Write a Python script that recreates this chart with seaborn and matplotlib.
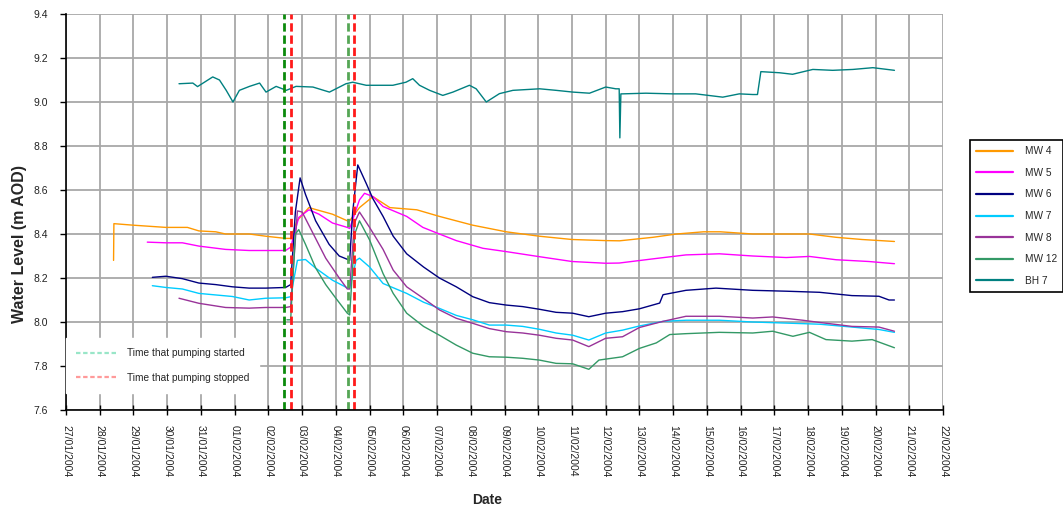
import numpy as np
import pandas as pd
import matplotlib
matplotlib.use("Agg")
import matplotlib.pyplot as plt
import matplotlib.dates as mdates
from matplotlib.lines import Line2D
from matplotlib.ticker import FormatStrFormatter
import seaborn as sns

# ---------------- data (days after 27/01/2004 00:00, level in m AOD) ----------------
START = pd.Timestamp("2004-01-27")

mw4_d = [1.41, 1.42, 2.0, 2.96, 3.6, 3.94, 4.44, 4.73, 5.43, 5.92, 6.51, 6.66, 6.85, 7.2, 7.9,
         8.34, 8.41, 8.7, 9.1, 9.6, 10.4, 11.07, 12.06, 13.05, 14.03, 15.0, 16.0, 16.41, 17.4, 18.1,
         18.9, 19.4, 20.36, 21.35, 22.04, 22.83, 23.6, 24.56]
mw4_v = [8.28, 8.447, 8.44, 8.43, 8.43, 8.414, 8.41, 8.40, 8.40, 8.39, 8.38, 8.38, 8.46, 8.52, 8.49,
         8.46, 8.46, 8.52, 8.57, 8.52, 8.51, 8.48, 8.44, 8.41, 8.39, 8.375, 8.37, 8.369, 8.385, 8.40,
         8.41, 8.41, 8.40, 8.40, 8.40, 8.385, 8.375, 8.366]

mw5_d = [2.41, 2.96, 3.45, 3.94, 4.73, 5.43, 5.92, 6.51, 6.66, 6.9, 7.2, 7.5, 7.9, 8.34, 8.41,
         8.7, 8.85, 9.1, 9.4, 10.1, 10.58, 11.07, 11.57, 12.36, 13.05, 14.03, 15.0, 16.0, 16.4, 17.4,
         18.38, 19.37, 20.36, 21.35, 22.04, 22.83, 23.8, 24.56]
mw5_v = [8.363, 8.36, 8.36, 8.345, 8.33, 8.325, 8.325, 8.325, 8.34, 8.475, 8.51, 8.49, 8.45, 8.43, 8.425,
         8.555, 8.585, 8.57, 8.525, 8.48, 8.43, 8.40, 8.37, 8.335, 8.32, 8.297, 8.275, 8.267, 8.268, 8.287,
         8.305, 8.31, 8.30, 8.293, 8.298, 8.283, 8.275, 8.265]

mw6_d = [2.56, 2.96, 3.45, 3.94, 4.44, 4.93, 5.43, 5.92, 6.51, 6.66, 6.8, 6.94, 7.1, 7.4, 7.8,
         8.1, 8.34, 8.41, 8.5, 8.65, 8.9, 9.1, 9.4, 9.7, 10.1, 10.6, 11.07, 11.57, 12.06, 12.55,
         13.05, 13.54, 14.03, 14.53, 15.02, 15.5, 16.0, 16.5, 17.0, 17.6, 17.7, 18.38, 19.27, 20.36, 21.35,
         22.34, 23.3, 24.1, 24.4, 24.56]
mw6_v = [8.203, 8.208, 8.197, 8.177, 8.17, 8.16, 8.154, 8.154, 8.157, 8.17, 8.50, 8.655, 8.58, 8.46, 8.353,
         8.30, 8.285, 8.28, 8.50, 8.714, 8.63, 8.56, 8.48, 8.39, 8.31, 8.25, 8.20, 8.16, 8.115, 8.088,
         8.077, 8.07, 8.058, 8.044, 8.04, 8.024, 8.04, 8.047, 8.06, 8.086, 8.124, 8.144, 8.154, 8.144, 8.14,
         8.135, 8.12, 8.117, 8.10, 8.10]

mw7_d = [2.56, 2.96, 3.45, 3.94, 4.93, 5.43, 5.92, 6.51, 6.66, 6.86, 7.1, 7.4, 7.9, 8.34, 8.41,
         8.6, 8.7, 9.0, 9.4, 10.1, 10.6, 11.07, 11.57, 12.06, 12.55, 13.05, 13.54, 14.03, 14.53, 15.02,
         15.5, 16.0, 16.5, 17.0, 17.7, 18.38, 19.37, 20.36, 21.35, 22.34, 23.3, 24.1, 24.56]
mw7_v = [8.165, 8.157, 8.15, 8.13, 8.116, 8.10, 8.108, 8.11, 8.115, 8.28, 8.284, 8.245, 8.19, 8.155, 8.153,
         8.28, 8.29, 8.25, 8.175, 8.13, 8.09, 8.062, 8.03, 8.01, 7.986, 7.986, 7.98, 7.967, 7.95, 7.94,
         7.918, 7.95, 7.963, 7.982, 8.003, 8.008, 8.008, 8.0, 7.995, 7.99, 7.977, 7.966, 7.953]

mw8_d = [3.35, 3.94, 4.73, 5.43, 5.92, 6.51, 6.66, 6.86, 7.0, 7.3, 7.7, 8.1, 8.34, 8.41, 8.55,
         8.7, 9.0, 9.4, 9.7, 10.1, 10.6, 11.07, 11.57, 12.06, 12.55, 13.05, 13.54, 14.03, 14.53, 15.02,
         15.5, 16.0, 16.5, 17.0, 17.7, 18.38, 19.37, 20.36, 20.95, 21.84, 22.34, 23.3, 24.1, 24.56]
mw8_v = [8.108, 8.085, 8.066, 8.063, 8.066, 8.066, 8.07, 8.505, 8.50, 8.41, 8.29, 8.20, 8.15, 8.15, 8.45,
         8.50, 8.43, 8.33, 8.236, 8.16, 8.107, 8.055, 8.017, 7.994, 7.97, 7.956, 7.95, 7.94, 7.926, 7.918,
         7.888, 7.926, 7.933, 7.975, 8.003, 8.026, 8.026, 8.018, 8.023, 8.008, 7.998, 7.98, 7.977, 7.958]

mw12_d = [6.55, 6.66, 6.8, 6.9, 7.1, 7.4, 7.7, 8.0, 8.34, 8.41, 8.56, 8.7, 9.0, 9.4, 9.7,
          10.1, 10.6, 11.07, 11.57, 12.06, 12.55, 13.05, 13.54, 14.03, 14.53, 15.02, 15.5, 15.8, 16.5, 17.0,
          17.5, 17.9, 18.38, 19.37, 20.36, 20.95, 21.55, 22.04, 22.53, 23.3, 23.9, 24.56]
mw12_v = [8.01, 8.01, 8.40, 8.42, 8.353, 8.246, 8.17, 8.108, 8.04, 8.032, 8.40, 8.46, 8.373, 8.22, 8.13,
          8.04, 7.98, 7.94, 7.895, 7.858, 7.842, 7.84, 7.835, 7.827, 7.812, 7.81, 7.785, 7.827, 7.842, 7.88,
          7.905, 7.943, 7.947, 7.953, 7.95, 7.958, 7.935, 7.953, 7.92, 7.913, 7.92, 7.883]

bh7_d = [3.35, 3.76, 3.9, 4.35, 4.55, 4.75, 4.95, 5.14, 5.44, 5.74, 5.93, 6.23, 6.53, 6.82, 7.32,
         7.81, 8.3, 8.5, 8.9, 9.3, 9.69, 10.08, 10.28, 10.48, 10.78, 11.17, 11.47, 11.96, 12.16, 12.46,
         12.85, 13.25, 14.04, 14.53, 15.03, 15.52, 16.0, 16.3, 16.4, 16.42, 16.45, 16.5, 17.19, 17.98, 18.67,
         19.47, 19.96, 20.36, 20.5, 20.6, 21.15, 21.54, 22.14, 22.73, 23.33, 23.92, 24.56]
bh7_v = [9.083, 9.086, 9.07, 9.114, 9.10, 9.053, 9.0, 9.053, 9.071, 9.086, 9.045, 9.071, 9.053, 9.071, 9.068,
         9.045, 9.083, 9.09, 9.076, 9.076, 9.076, 9.09, 9.106, 9.076, 9.053, 9.03, 9.045, 9.076, 9.06, 9.0,
         9.038, 9.053, 9.06, 9.053, 9.045, 9.04, 9.068, 9.06, 9.06, 8.837, 9.037, 9.037, 9.04, 9.037, 9.037,
         9.022, 9.037, 9.034, 9.034, 9.138, 9.133, 9.126, 9.148, 9.144, 9.148, 9.156, 9.144]

series_names = ["MW 4", "MW 5", "MW 6", "MW 7", "MW 8", "MW 12", "BH 7"]
series_colors = ["#FF9900", "#FF00FF", "#000080", "#00CCFF", "#993399", "#339966", "#008080"]

pump_start = [6.47, 8.36]
pump_stop = [6.66, 8.54]
pump_start_colors = ["#0B8A0B", "#55A655"]

ylim = (7.6, 9.4)
n_days = 26

# ---------------- build long table ----------------
frames = []
for name, d, v in zip(series_names,
                      [mw4_d, mw5_d, mw6_d, mw7_d, mw8_d, mw12_d, bh7_d],
                      [mw4_v, mw5_v, mw6_v, mw7_v, mw8_v, mw12_v, bh7_v]):
    frames.append(pd.DataFrame({"Date": START + pd.to_timedelta(d, unit="D"),
                                "Level": v, "Well": name}))
df = pd.concat(frames, ignore_index=True)

# ---------------- plot ----------------
sns.set_theme(style="white")
plt.rcParams["font.family"] = ["Liberation Sans", "DejaVu Sans"]

fig = plt.figure(figsize=(10.63, 5.07), dpi=100)
ax = fig.add_axes([66 / 1063, 1 - 410 / 507, 877 / 1063, 396 / 507])

sns.lineplot(data=df, x="Date", y="Level", hue="Well", hue_order=series_names,
             palette=dict(zip(series_names, series_colors)), estimator=None,
             linewidth=1.0, legend=False, ax=ax, zorder=3)

for t, c in zip(pump_start, pump_start_colors):
    ax.axvline(START + pd.to_timedelta(t, unit="D"), color=c, lw=2.0,
               ls=(0, (3, 1.4)), zorder=4)
for t in pump_stop:
    ax.axvline(START + pd.to_timedelta(t, unit="D"), color="#FF1A1A", lw=2.0,
               ls=(0, (3, 1.4)), zorder=4)

ax.set_xlim(START, START + pd.Timedelta(days=n_days))
ax.set_ylim(*ylim)
ax.set_yticks(np.round(np.arange(ylim[0], ylim[1] + 0.001, 0.2), 1))
ax.yaxis.set_major_formatter(FormatStrFormatter("%.1f"))
ax.xaxis.set_major_locator(mdates.DayLocator())
ax.xaxis.set_major_formatter(mdates.DateFormatter("%d/%m/%Y"))

ax.grid(True, color="#A8A8A8", lw=1.3)
ax.set_axisbelow(True)
for s in ["top", "right"]:
    ax.spines[s].set_visible(False)
for s in ["left", "bottom"]:
    ax.spines[s].set_color("black")
    ax.spines[s].set_linewidth(1.2)
    ax.spines[s].set_zorder(5)

ax.tick_params(axis="y", direction="out", length=4, width=1, color="black",
               labelsize=7.5, pad=9, left=True, labelcolor="#222222")
ax.tick_params(axis="x", direction="inout", length=7, width=1, color="black",
               labelsize=7.5, pad=7, bottom=True, labelcolor="#222222")
for lab in ax.get_xticklabels():
    lab.set_rotation(270)
    lab.set_ha("center")
    lab.set_va("top")

ax.set_ylabel("")
ax.set_xlabel("")
fig.text(20 / 1063, 1 - 244 / 507, "Water Level (m AOD)", fontsize=11.5,
         fontweight="bold", rotation=90, ha="center", va="center")
fig.text(487 / 1063, 1 - 500 / 507, "Date", fontsize=10, fontweight="bold",
         ha="center", va="center")

# pumping legend inside the plot
pump_handles = [Line2D([], [], color="#99E6C8", lw=1.6, ls=(0, (2, 1.2))),
                Line2D([], [], color="#FF9A9A", lw=1.6, ls=(0, (2, 1.2)))]
leg1 = ax.legend(pump_handles, ["Time that pumping started", "Time that pumping stopped"],
                 loc="upper left", bbox_to_anchor=(0.0, (410 - 338) / 396),
                 borderaxespad=0, frameon=True, fancybox=False, framealpha=1,
                 facecolor="white", edgecolor="white", fontsize=7.3,
                 handlelength=3.9, handletextpad=1.1, labelspacing=1.45,
                 borderpad=1.0)
leg1.set_zorder(6)

# series legend on the right
handles = [Line2D([], [], color=c, lw=1.6) for c in series_colors]
leg2 = fig.legend(handles, series_names, loc="upper left",
                  bbox_to_anchor=(970 / 1063, 1 - 140 / 507), borderaxespad=0,
                  frameon=True, fancybox=False, framealpha=1, facecolor="white",
                  edgecolor="black", fontsize=7.3, handlelength=3.6,
                  handletextpad=1.2, labelspacing=1.15, borderpad=0.6)
leg2.get_frame().set_linewidth(1.2)

fig.savefig("out.png", dpi=100, facecolor="white")
